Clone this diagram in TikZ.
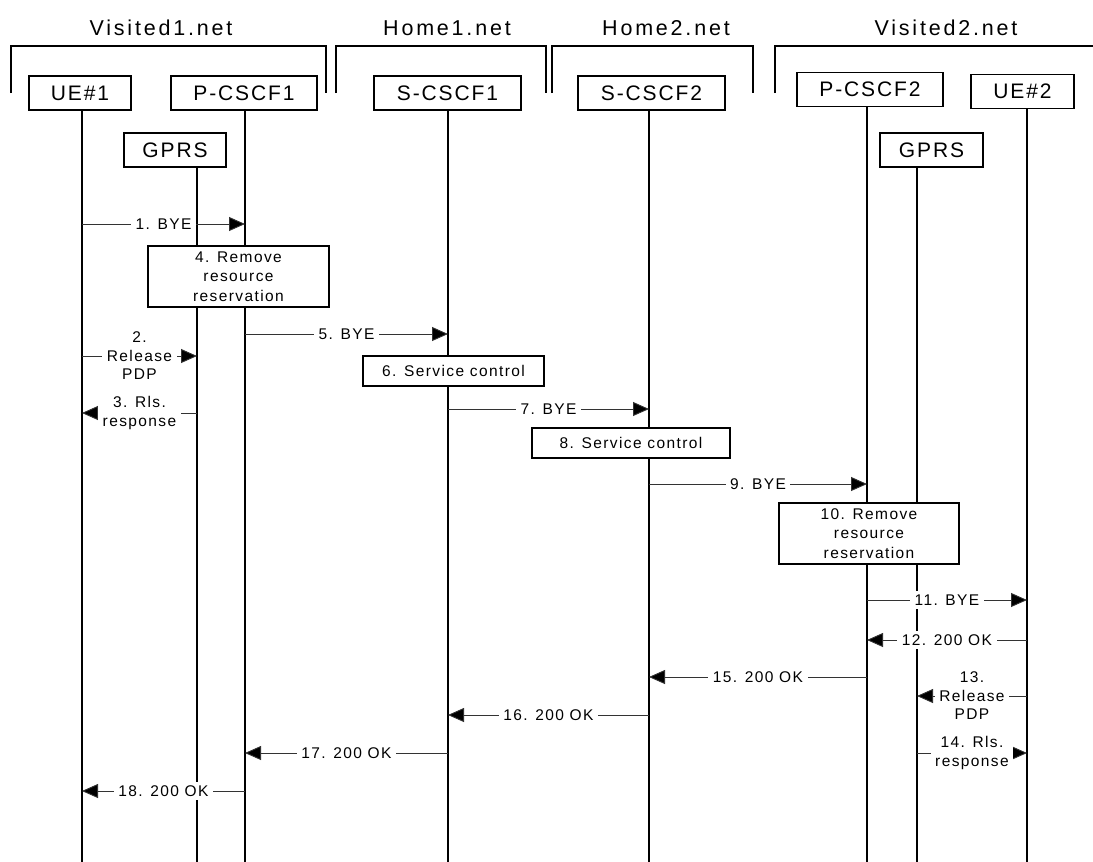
\documentclass[tikz,border=0pt]{standalone}
\usepackage{fontspec}
\setmainfont{Liberation Sans}[LetterSpace=9]
\newfontfamily\hdrfont{Liberation Sans}[LetterSpace=13]
\usetikzlibrary{arrows.meta}
\begin{document}
\begin{tikzpicture}[x=1pt,y=-1pt,
  hdr/.style={font=\hdrfont\fontsize{21.5}{24}\selectfont, inner sep=0pt},
  bracket/.style={line width=1.8pt},
  entity/.style={draw, line width=1.8pt, fill=white, minimum height=34pt, inner sep=0pt, font=\fontsize{21}{24}\selectfont},
  life/.style={line width=1.8pt},
  proc/.style={draw, line width=1.8pt, fill=white, inner sep=0pt, align=center, font=\fontsize{15.5}{19.5}\selectfont},
  msg/.style={line width=0.9pt, draw=black!80, -{Triangle[length=16pt,width=14pt,fill=black]}},
  lbl/.style={fill=white, inner xsep=4.5pt, inner ysep=4pt, align=center, text=black, font=\fontsize{15.5}{18.5}\selectfont}
]
\useasboundingbox (0,0) rectangle (1093,862);

% domain headers and brackets
\node[hdr] (hv1) at (161,28) {Visited1.net};
\node[hdr] (hh1) at (447,28) {Home1.net};
\node[hdr] (hh2) at (666,28) {Home2.net};
\node[hdr] (hv2) at (946,28) {Visited2.net};
\draw[bracket] (11,93) -- (11,46) -- (326,46) -- (326,93);
\draw[bracket] (336,93) -- (336,46) -- (546,46) -- (546,93);
\draw[bracket] (552,93) -- (552,46) -- (753,46) -- (753,93);
\draw[bracket] (775,93) -- (775,46) -- (1093,46);

% entity boxes
\node[entity, minimum width=102pt] (ue1) at (80,93) {UE\#1};
\node[entity, minimum width=146pt] (pc1) at (244,93) {P-CSCF1};
\node[entity, minimum width=102pt] (g1) at (175,150) {GPRS};
\node[entity, minimum width=147pt] (sc1) at (447.5,93) {S-CSCF1};
\node[entity, minimum width=147pt] (sc2) at (651.5,93) {S-CSCF2};
\node[entity, minimum width=146pt] (pc2) at (870,89.5) {P-CSCF2};
\node[entity, minimum width=103pt] (ue2) at (1022.5,91.5) {UE\#2};
\node[entity, minimum width=103pt] (g2) at (931.5,150) {GPRS};

% lifeline positions
\coordinate (UE1) at (82,0);
\coordinate (G1) at (197,0);
\coordinate (PC1) at (245,0);
\coordinate (SC1) at (448,0);
\coordinate (SC2) at (649,0);
\coordinate (PC2) at (867,0);
\coordinate (G2) at (917,0);
\coordinate (UE2) at (1027,0);

\foreach \b/\l in {ue1/UE1, pc1/PC1, g1/G1, sc1/SC1, sc2/SC2, pc2/PC2, g2/G2, ue2/UE2}
  \draw[life] (\b.south -| \l) -- ([yshift=-862pt]\l);

% messages
\draw[msg] ([yshift=-224pt]UE1) -- node[lbl]{1. BYE} ([yshift=-224pt]PC1);
\node[proc, minimum width=181pt, minimum height=61pt] (p4) at (238.5,276.5) {4. Remove\\resource\\reservation};
\draw[msg] ([yshift=-334pt]PC1) -- node[lbl]{5. BYE} ([yshift=-334pt]SC1);
\draw[msg] ([yshift=-356pt]UE1) -- node[lbl]{2.\\Release\\PDP} ([yshift=-356pt]G1);
\node[proc, minimum width=181pt, minimum height=30pt] (p6) at (453.5,371) {6. Service control};
\draw[msg] ([yshift=-413pt]G1) -- node[lbl]{3. Rls.\\response} ([yshift=-413pt]UE1);
\draw[msg] ([yshift=-409pt]SC1) -- node[lbl]{7. BYE} ([yshift=-409pt]SC2);
\node[proc, minimum width=198pt, minimum height=30pt] (p8) at (631,443) {8. Service control};
\draw[msg] ([yshift=-484pt]SC2) -- node[lbl]{9. BYE} ([yshift=-484pt]PC2);
\node[proc, minimum width=180pt, minimum height=61pt] (p10) at (869,533.5) {10. Remove\\resource\\reservation};
\draw[msg] ([yshift=-600pt]PC2) -- node[lbl]{11. BYE} ([yshift=-600pt]UE2);
\draw[msg] ([yshift=-640pt]UE2) -- node[lbl]{12. 200 OK} ([yshift=-640pt]PC2);
\draw[msg] ([yshift=-677pt]PC2) -- node[lbl]{15. 200 OK} ([yshift=-677pt]SC2);
\draw[msg] ([yshift=-696pt]UE2) -- node[lbl]{13.\\Release\\PDP} ([yshift=-696pt]G2);
\draw[msg] ([yshift=-715pt]SC2) -- node[lbl]{16. 200 OK} ([yshift=-715pt]SC1);
\draw[msg] ([yshift=-753pt]G2) -- node[lbl]{14. Rls.\\response} ([yshift=-753pt]UE2);
\draw[msg] ([yshift=-753pt]SC1) -- node[lbl]{17. 200 OK} ([yshift=-753pt]PC1);
\draw[msg] ([yshift=-791pt]PC1) -- node[lbl]{18. 200 OK} ([yshift=-791pt]UE1);
\end{tikzpicture}
\end{document}
